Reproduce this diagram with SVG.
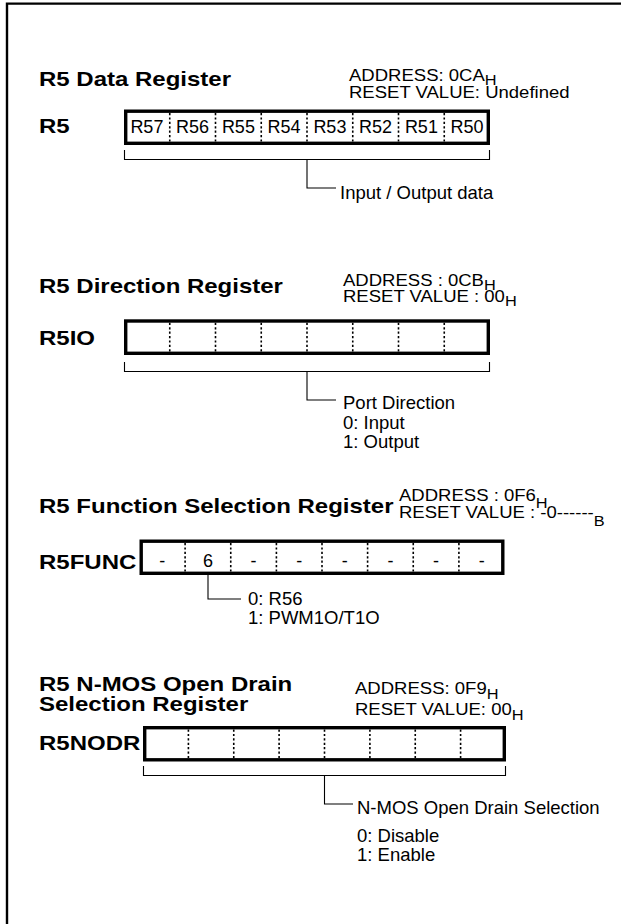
<svg xmlns="http://www.w3.org/2000/svg" width="621" height="924" viewBox="0 0 621 924">
<style>
.t{font-family:"Liberation Sans",Arial,sans-serif;font-weight:bold;font-size:20px;fill:#000}
.a{font-family:"Liberation Sans",Arial,sans-serif;font-size:17px;fill:#000}
.b{font-family:"Liberation Sans",Arial,sans-serif;font-size:18.5px;fill:#000}
.s{font-size:15px}
.c{font-family:"Liberation Sans",Arial,sans-serif;font-size:18px;fill:#000;text-anchor:middle}
.box{fill:#fff;stroke:#000;stroke-width:3.4}
.dv{stroke:#000;stroke-width:1.6;stroke-dasharray:2.2 2.2}
.ln{fill:none;stroke:#000;stroke-width:1.1}
</style>
<rect width="621" height="924" fill="#fff"/>
<path d="M7,924 V3.6 H621" fill="none" stroke="#000" stroke-width="2.4"/>

<g id="r5-data">
<text class="t" transform="translate(39 86) scale(1.2 1)">R5 Data Register</text>
<text class="a" transform="translate(349 80.5) scale(1.09 1)">ADDRESS: 0CA<tspan class="s" dy="4.5">H</tspan></text>
<text class="a" transform="translate(349 97.5) scale(1.09 1)">RESET VALUE: Undefined</text>
<text class="t" transform="translate(39 133) scale(1.2 1)">R5</text>
<rect class="box" x="125.7" y="111.2" width="362.6" height="32.1"/>
<g class="dv"><line x1="169.75" y1="113" x2="169.75" y2="143.3"/><line x1="215.5" y1="113" x2="215.5" y2="143.3"/><line x1="261.25" y1="113" x2="261.25" y2="143.3"/><line x1="307" y1="113" x2="307" y2="143.3"/><line x1="352.75" y1="113" x2="352.75" y2="143.3"/><line x1="398.5" y1="113" x2="398.5" y2="143.3"/><line x1="444.25" y1="113" x2="444.25" y2="143.3"/></g>
<g class="c"><text x="146.9" y="132.5">R57</text><text x="192.6" y="132.5">R56</text><text x="238.4" y="132.5">R55</text><text x="284.1" y="132.5">R54</text><text x="329.9" y="132.5">R53</text><text x="375.6" y="132.5">R52</text><text x="421.4" y="132.5">R51</text><text x="467.1" y="132.5">R50</text></g>
<text class="b" x="340" y="199">Input / Output data</text>
</g>

<g id="r5-direction">
<text class="t" transform="translate(39 292.7) scale(1.2 1)">R5 Direction Register</text>
<text class="a" transform="translate(343 285.7) scale(1.09 1)">ADDRESS : 0CB<tspan class="s" dy="4.5">H</tspan></text>
<text class="a" transform="translate(343 301.5) scale(1.09 1)">RESET VALUE : 00<tspan class="s" dy="4.5">H</tspan></text>
<text class="t" transform="translate(39 345) scale(1.2 1)">R5IO</text>
<rect class="box" x="125.7" y="321" width="362.6" height="32.3"/>
<g class="dv"><line x1="169.75" y1="322.8" x2="169.75" y2="353.5"/><line x1="215.5" y1="322.8" x2="215.5" y2="353.5"/><line x1="261.25" y1="322.8" x2="261.25" y2="353.5"/><line x1="307" y1="322.8" x2="307" y2="353.5"/><line x1="352.75" y1="322.8" x2="352.75" y2="353.5"/><line x1="398.5" y1="322.8" x2="398.5" y2="353.5"/><line x1="444.25" y1="322.8" x2="444.25" y2="353.5"/></g>
<text class="b" x="343" y="409">Port Direction</text>
<text class="b" x="343" y="428.5">0: Input</text>
<text class="b" x="343" y="448">1: Output</text>
</g>

<g id="r5-function">
<text class="t" transform="translate(39 513) scale(1.2 1)">R5 Function Selection Register</text>
<text class="a" transform="translate(399 501) scale(1.09 1)">ADDRESS : 0F6<tspan class="s" dy="6.5">H</tspan></text>
<text class="a" transform="translate(399 518) scale(1.09 1)">RESET VALUE : -0------<tspan class="s" dy="8">B</tspan></text>
<text class="t" transform="translate(39 569) scale(1.2 1)">R5FUNC</text>
<rect class="box" x="141.2" y="541.2" width="361.6" height="32.1"/>
<g class="dv"><line x1="185.1" y1="543" x2="185.1" y2="573.3"/><line x1="230.75" y1="543" x2="230.75" y2="573.3"/><line x1="276.4" y1="543" x2="276.4" y2="573.3"/><line x1="322" y1="543" x2="322" y2="573.3"/><line x1="367.6" y1="543" x2="367.6" y2="573.3"/><line x1="413.25" y1="543" x2="413.25" y2="573.3"/><line x1="458.9" y1="543" x2="458.9" y2="573.3"/></g>
<g class="c"><text x="162.3" y="567">-</text><text x="208" y="567">6</text><text x="253.6" y="567">-</text><text x="299.2" y="567">-</text><text x="344.8" y="567">-</text><text x="390.4" y="567">-</text><text x="436" y="567">-</text><text x="481.7" y="567">-</text></g>
<text class="b" x="248" y="605">0: R56</text>
<text class="b" x="248" y="624">1: PWM1O/T1O</text>
</g>

<g id="r5-nodr">
<text class="t" transform="translate(39 691) scale(1.2 1)">R5 N-MOS Open Drain</text>
<text class="t" transform="translate(39 711) scale(1.2 1)">Selection Register</text>
<text class="a" transform="translate(355 694) scale(1.09 1)">ADDRESS: 0F9<tspan class="s" dy="4.5">H</tspan></text>
<text class="a" transform="translate(355 715) scale(1.09 1)">RESET VALUE: 00<tspan class="s" dy="4.5">H</tspan></text>
<text class="t" transform="translate(39 750) scale(1.2 1)">R5NODR</text>
<rect class="box" x="144.7" y="727.7" width="359.6" height="32.1"/>
<g class="dv"><line x1="188.4" y1="729.5" x2="188.4" y2="759.8"/><line x1="233.75" y1="729.5" x2="233.75" y2="759.8"/><line x1="279.1" y1="729.5" x2="279.1" y2="759.8"/><line x1="324.5" y1="729.5" x2="324.5" y2="759.8"/><line x1="369.9" y1="729.5" x2="369.9" y2="759.8"/><line x1="415.25" y1="729.5" x2="415.25" y2="759.8"/><line x1="460.6" y1="729.5" x2="460.6" y2="759.8"/></g>
<text class="b" x="357" y="814">N-MOS Open Drain Selection</text>
<text class="b" x="357" y="842">0: Disable</text>
<text class="b" x="357" y="861">1: Enable</text>
</g>

<g id="connectors" class="ln">
<path d="M124.5,150 V159.5 H489.5 V150"/>
<path d="M307,159.5 V188 H336"/>
<path d="M124.5,362 V371.5 H489.5 V362"/>
<path d="M307,371.5 V400 H336"/>
<path d="M208,575 V599 H241"/>
<path d="M143.5,766 V775.5 H505.5 V766"/>
<path d="M324.5,775.5 V804 H353"/>
</g>
</svg>
